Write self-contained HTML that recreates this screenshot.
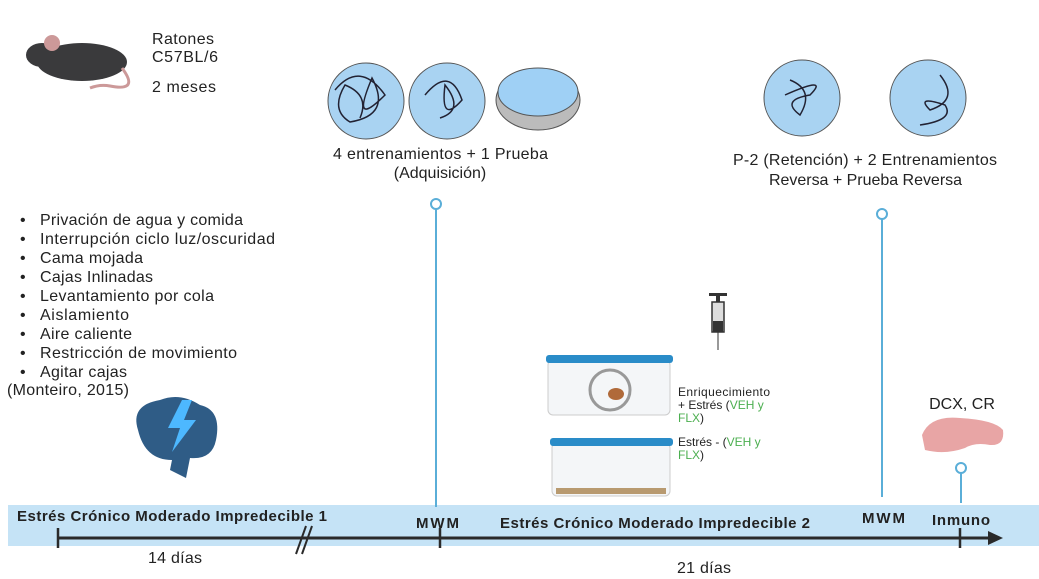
<!DOCTYPE html>
<html><head><meta charset="utf-8"><style>
body{margin:0;background:#fff;}
svg text{font-family:"Liberation Sans",sans-serif;fill:#222;}
</style></head><body>
<svg width="1039" height="574" viewBox="0 0 1039 574" xmlns="http://www.w3.org/2000/svg">
<g>
<ellipse cx="82" cy="62" rx="45" ry="19" fill="#3a3a3c"/>
<ellipse cx="42" cy="55" rx="16" ry="12" fill="#3a3a3c"/>
<circle cx="52" cy="43" r="8" fill="#c99"/>
<path d="M122 68 Q140 92 110 86 Q100 84 90 88" stroke="#c99" stroke-width="3" fill="none"/>
</g>
<text x="152" y="44" font-size="16" textLength="62">Ratones</text>
<text x="152" y="62" font-size="16" textLength="66">C57BL/6</text>
<text x="152" y="92" font-size="16" textLength="64">2 meses</text>
<g stroke="#555">
<circle cx="366" cy="101" r="38" fill="#a9d3f2"/>
<circle cx="447" cy="101" r="38" fill="#a9d3f2"/>
<path d="M335 90 Q360 60 385 95 Q350 130 372 78 Q392 115 350 122 Q330 110 345 85 Q370 95 360 118" fill="none" stroke="#223" stroke-width="1.5"/>
<path d="M425 95 Q450 65 462 100 Q440 125 445 85 Q465 110 440 118" fill="none" stroke="#223" stroke-width="1.5"/>
<ellipse cx="538" cy="100" rx="42" ry="30" fill="#bbb"/>
<ellipse cx="538" cy="92" rx="40" ry="24" fill="#9fd0f5"/>
</g>
<text x="333" y="159" font-size="16" textLength="215">4 entrenamientos + 1 Prueba</text>
<text x="440" y="178" font-size="16" text-anchor="middle">(Adquisición)</text>
<g stroke="#555">
<circle cx="802" cy="98" r="38" fill="#a9d3f2"/>
<circle cx="928" cy="98" r="38" fill="#a9d3f2"/>
<path d="M790 80 Q815 90 800 115 Q780 100 810 95 Q830 75 785 95" fill="none" stroke="#223" stroke-width="1.5"/>
<path d="M940 75 Q960 100 930 110 Q915 95 945 105 Q955 120 920 125" fill="none" stroke="#223" stroke-width="1.5"/>
</g>
<text x="733" y="165" font-size="16" textLength="264">P-2 (Retención) + 2 Entrenamientos</text>
<text x="769" y="185" font-size="16" textLength="193">Reversa + Prueba Reversa</text>
<g font-size="16">
<text x="20" y="225">•</text><text x="40" y="225" textLength="203">Privación de agua y comida</text>
<text x="20" y="244">•</text><text x="40" y="244" textLength="235">Interrupción ciclo luz/oscuridad</text>
<text x="20" y="263">•</text><text x="40" y="263" textLength="103">Cama mojada</text>
<text x="20" y="282">•</text><text x="40" y="282" textLength="113">Cajas Inlinadas</text>
<text x="20" y="301">•</text><text x="40" y="301" textLength="174">Levantamiento por cola</text>
<text x="20" y="320">•</text><text x="40" y="320" textLength="89">Aislamiento</text>
<text x="20" y="339">•</text><text x="40" y="339" textLength="92">Aire caliente</text>
<text x="20" y="358">•</text><text x="40" y="358" textLength="197">Restricción de movimiento</text>
<text x="20" y="377">•</text><text x="40" y="377" textLength="87">Agitar cajas</text>
<text x="7" y="395" textLength="122">(Monteiro, 2015)</text>
</g>
<g>
<path d="M138 430 Q130 405 160 400 Q180 392 200 405 Q222 410 216 440 Q212 460 190 458 L186 478 L170 470 L172 460 Q145 460 138 430Z" fill="#2f5c86"/>
<path d="M182 400 L168 428 L180 428 L172 452 L196 420 L184 420 L192 400Z" fill="#4db8ff"/>
</g>
<g>
<rect x="709" y="293" width="18" height="3" fill="#333"/>
<rect x="716" y="296" width="4" height="6" fill="#333"/>
<rect x="712" y="302" width="12" height="30" fill="#ddd" stroke="#333" stroke-width="1.5"/>
<rect x="713" y="321" width="10" height="11" fill="#333"/>
<line x1="718" y1="332" x2="718" y2="350" stroke="#333"/>
</g>
<g>
<rect x="548" y="360" width="122" height="55" rx="5" fill="#f4f6f8" stroke="#ccc"/>
<rect x="546" y="355" width="127" height="8" rx="3" fill="#2a8cc8"/>
<circle cx="610" cy="390" r="20" fill="none" stroke="#999" stroke-width="3"/>
<ellipse cx="616" cy="394" rx="8" ry="6" fill="#b06a3a"/>
</g>
<g>
<rect x="552" y="443" width="118" height="53" rx="5" fill="#f4f6f8" stroke="#ccc"/>
<rect x="550" y="438" width="123" height="8" rx="3" fill="#2a8cc8"/>
<rect x="556" y="488" width="110" height="6" fill="#b89a70"/>
</g>
<g font-size="12">
<text x="678" y="396" textLength="92">Enriquecimiento</text>
<text x="678" y="409">+ Estrés (<tspan fill="#4caf50">VEH y</tspan></text>
<text x="678" y="422"><tspan fill="#4caf50">FLX</tspan>)</text>
<text x="678" y="446">Estrés - (<tspan fill="#4caf50">VEH y</tspan></text>
<text x="678" y="459"><tspan fill="#4caf50">FLX</tspan>)</text>
</g>
<text x="962" y="409" font-size="16" text-anchor="middle">DCX, CR</text>
<path d="M922 435 Q930 415 960 418 Q995 420 1003 430 Q1005 446 990 445 Q975 442 965 448 Q945 455 925 450Z" fill="#e8a5a5"/>
<rect x="8" y="505" width="1031" height="41" fill="#c5e3f6"/>
<g stroke="#5aaed8" stroke-width="2" fill="#fff">
<line x1="436" y1="209" x2="436" y2="507"/><circle cx="436" cy="204" r="5"/>
<line x1="882" y1="219" x2="882" y2="497"/><circle cx="882" cy="214" r="5"/>
<line x1="961" y1="473" x2="961" y2="503"/><circle cx="961" cy="468" r="5"/>
</g>
<g>
<line x1="58" y1="538" x2="990" y2="538" stroke="#2a2a2a" stroke-width="3"/>
<path d="M988 531 L1003 538 L988 545Z" fill="#2a2a2a"/>
<line x1="58" y1="528" x2="58" y2="548" stroke="#2a2a2a" stroke-width="2.5"/>
<line x1="440" y1="528" x2="440" y2="548" stroke="#2a2a2a" stroke-width="2.5"/>
<line x1="960" y1="528" x2="960" y2="548" stroke="#2a2a2a" stroke-width="2.5"/>
<line x1="296" y1="554" x2="306" y2="526" stroke="#2a2a2a" stroke-width="2"/>
<line x1="302" y1="554" x2="312" y2="526" stroke="#2a2a2a" stroke-width="2"/>
</g>
<g font-size="15" font-weight="bold">
<text x="17" y="521" textLength="310">Estrés Crónico Moderado Impredecible  1</text>
<text x="416" y="528" textLength="43">MWM</text>
<text x="500" y="528" textLength="310">Estrés Crónico Moderado Impredecible  2</text>
<text x="862" y="523" textLength="43">MWM</text>
<text x="932" y="525" textLength="58">Inmuno</text>
</g>
<text x="148" y="563" font-size="16" textLength="54">14 días</text>
<text x="677" y="573" font-size="16" textLength="54">21 días</text>
</svg>
</body></html>
